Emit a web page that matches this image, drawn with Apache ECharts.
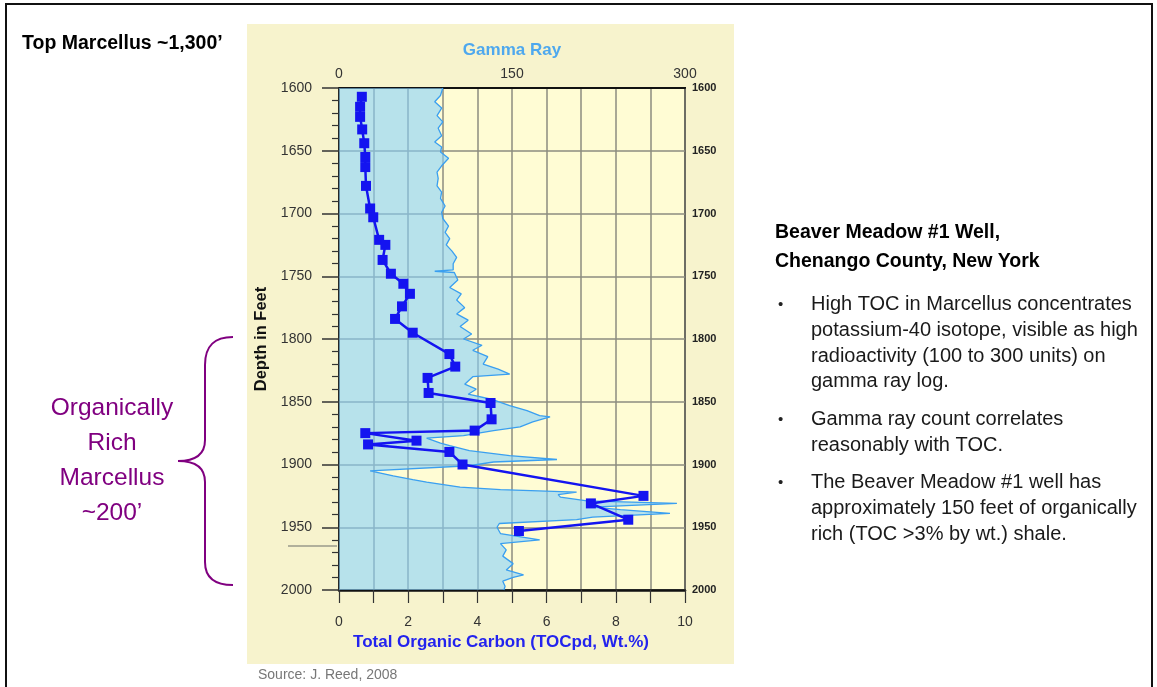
<!DOCTYPE html>
<html><head><meta charset="utf-8">
<script src="https://cdn.jsdelivr.net/npm/echarts@6/dist/echarts.min.js"></script>
<style>html,body{margin:0;padding:0;background:#fff}#c{width:1157px;height:687px}</style>
</head><body><div id="c"></div>
<script>
// TOC samples (depth in feet, TOC wt.%)
const tocDepth = [1607,1615,1623,1633,1644,1655,1663,1678,1696,1703,1721,1725,1737,1748,1756,1764,1774,1784,1795,1812,1822,1831,1843,1851,1864,1873,1875,1881,1884,1890,1900,1925,1931,1944,1953];
const tocValue = [0.66,0.61,0.61,0.67,0.73,0.76,0.76,0.78,0.90,0.99,1.16,1.34,1.26,1.50,1.86,2.05,1.82,1.62,2.13,3.19,3.36,2.56,2.59,4.38,4.41,3.92,0.76,2.24,0.84,3.19,3.57,8.80,7.28,8.36,5.20];

// Gamma ray log (depth in feet, API units)
const grDepth = [1600,1606,1611,1616,1622,1627,1632,1638,1643,1647,1651,1656,1662,1667,1672,1678,1683,1688,1694,1699,1704,1710,1715,1720,1725,1730,1735,1740,1745,1746,1747,1753,1759,1764,1769,1775,1780,1785,1790,1796,1800,1805,1809,1814,1820,1824,1828,1830,1836,1840,1844,1848,1853,1857,1861,1862,1866,1870,1873,1877,1879,1883,1885,1889,1893,1896,1898,1901,1905,1909,1912,1914,1918,1920,1922,1924,1926,1929,1931,1934,1936,1939,1942,1944,1947,1950,1955,1960,1963,1968,1973,1979,1984,1988,1990,1993,1997,2000];
const grValue = [90,88,83,89,85,90,86,89,83,89,88,95,89,85,86,85,89,88,92,89,90,95,92,96,93,98,102,99,99,83,100,103,96,106,102,109,102,112,105,115,108,124,116,129,125,138,148,116,109,119,112,132,148,163,174,183,168,157,134,108,76,88,96,113,148,189,134,113,27,47,64,76,105,140,206,190,192,215,293,220,244,287,220,206,139,137,140,174,140,145,142,151,145,160,151,142,144,143];

const depthMin = 1600, depthMax = 2000, depthStep = 50;
const tocMin = 0, tocMax = 10, tocStep = 1;
const grMin = 0, grMax = 300, grStep = 150;

const tocPairs = tocDepth.map((d, i) => [tocValue[i], d]);
const grPairs = grDepth.map((d, i) => [grValue[i], d]);

const chart = echarts.init(document.getElementById('c'), null, {renderer: 'canvas'});
const FONT = 'Liberation Sans, Arial, sans-serif';
const gridColor = '#8d8c80';
const purple = '#800080';
const plain = v => String(v);

chart.setOption({
  animation: false,
  textStyle: {fontFamily: FONT},
  grid: {left: 339, right: 472, top: 88, bottom: 97, show: true, backgroundColor: '#fffcd4', borderColor: '#111', borderWidth: 2},
  xAxis: [
    {
      type: 'value', position: 'bottom', min: tocMin, max: tocMax, interval: tocStep,
      axisLine: {show: true, lineStyle: {color: '#111', width: 2.5}},
      axisTick: {show: true, length: 13, lineStyle: {color: '#333', width: 1.2}},
      axisLabel: {margin: 25, fontSize: 14, color: '#333', fontFamily: FONT, formatter: v => (v % 2 === 0 ? String(v) : '')},
      splitLine: {show: true, lineStyle: {color: gridColor, width: 1.5}},
      name: 'Total Organic Carbon (TOCpd, Wt.%)', nameLocation: 'middle', nameGap: 40,
      nameTextStyle: {fontSize: 17, fontWeight: 'bold', color: '#2323ee', fontFamily: FONT, padding: [0, 22, 0, 0]}
    },
    {
      type: 'value', position: 'top', min: grMin, max: grMax, interval: grStep,
      axisLine: {show: true, lineStyle: {color: '#111', width: 2}},
      axisTick: {show: false},
      axisLabel: {margin: 7, fontSize: 14, color: '#333', fontFamily: FONT},
      splitLine: {show: false},
      name: 'Gamma Ray', nameLocation: 'middle', nameGap: 29,
      nameTextStyle: {fontSize: 17, fontWeight: 'bold', color: '#4ea8ee', fontFamily: FONT}
    }
  ],
  yAxis: [
    {
      type: 'value', inverse: true, position: 'left', min: depthMin, max: depthMax, interval: depthStep,
      axisLine: {show: true, lineStyle: {color: '#111', width: 1.5}},
      axisTick: {show: true, length: 17, lineStyle: {color: '#333', width: 1.5}},
      minorTick: {show: true, splitNumber: 5, length: 7, lineStyle: {color: '#333', width: 1.2}},
      axisLabel: {margin: 27, fontSize: 14, color: '#333', fontFamily: FONT, formatter: plain},
      splitLine: {show: true, lineStyle: {color: gridColor, width: 1.5}},
      name: 'Depth in Feet', nameLocation: 'middle', nameGap: 69,
      nameTextStyle: {fontSize: 16.5, fontWeight: 'bold', color: '#111', fontFamily: FONT}
    },
    {
      type: 'value', inverse: true, position: 'right', min: depthMin, max: depthMax, interval: depthStep,
      axisLine: {show: false}, axisTick: {show: false},
      axisLabel: {margin: 7, fontSize: 11, fontWeight: 'bold', color: '#222', fontFamily: FONT, formatter: plain},
      splitLine: {show: false}
    }
  ],
  series: [
    {
      type: 'custom', xAxisIndex: 1, yAxisIndex: 0, z: 1, silent: true,
      data: grPairs,
      renderItem: function (params, api) {
        if (params.dataIndex !== 0) return null;
        const pts = [api.coord([grMin, grDepth[0]])];
        for (let i = 0; i < grDepth.length; i++) pts.push(api.coord([grValue[i], grDepth[i]]));
        pts.push(api.coord([grMin, grDepth[grDepth.length - 1]]));
        return {type: 'polygon', shape: {points: pts}, style: {fill: 'rgba(135,208,250,0.6)'}};
      }
    },
    {
      type: 'line', xAxisIndex: 1, yAxisIndex: 0, z: 2, data: grPairs,
      showSymbol: false, lineStyle: {color: '#3a9ff0', width: 1.3}
    },
    {
      type: 'line', xAxisIndex: 0, yAxisIndex: 0, z: 3, data: tocPairs,
      symbol: 'rect', symbolSize: 10,
      itemStyle: {color: '#1414f0'}, lineStyle: {color: '#1414f0', width: 2.5}
    }
  ],
  graphic: [
    {type: 'rect', z: -100, shape: {x: 247, y: 24, width: 487, height: 640}, style: {fill: '#f7f3cd'}},
    {type: 'rect', z: 100, shape: {x: 6, y: 4, width: 1146, height: 700}, style: {fill: null, stroke: '#111', lineWidth: 2}},
    {type: 'line', z: 100, shape: {x1: 288, y1: 546, x2: 337, y2: 546}, style: {stroke: '#9a9a8a', lineWidth: 1.5}},
    {type: 'text', z: 100, x: 22, y: 44, style: {text: 'Top Marcellus ~1,300’', font: 'bold 19.5px ' + FONT, fill: '#000', verticalAlign: 'middle'}},
    {type: 'text', z: 100, x: 112, y: 391, style: {text: 'Organically\nRich\nMarcellus\n~200’', font: '24.5px ' + FONT, fill: purple, align: 'center', lineHeight: 35, verticalAlign: 'top'}},
    {type: 'bezierCurve', z: 100, shape: {x1: 233, y1: 337, cpx1: 215, cpy1: 337, cpx2: 205, cpy2: 345, x2: 205, y2: 365}, style: {fill: null, stroke: purple, lineWidth: 2}},
    {type: 'line', z: 100, shape: {x1: 205, y1: 365, x2: 205, y2: 440}, style: {stroke: purple, lineWidth: 2}},
    {type: 'bezierCurve', z: 100, shape: {x1: 205, y1: 440, cpx1: 205, cpy1: 455, cpx2: 195, cpy2: 461, x2: 178, y2: 461}, style: {fill: null, stroke: purple, lineWidth: 2}},
    {type: 'bezierCurve', z: 100, shape: {x1: 178, y1: 461, cpx1: 195, cpy1: 461, cpx2: 205, cpy2: 467, x2: 205, y2: 482}, style: {fill: null, stroke: purple, lineWidth: 2}},
    {type: 'line', z: 100, shape: {x1: 205, y1: 482, x2: 205, y2: 562}, style: {stroke: purple, lineWidth: 2}},
    {type: 'bezierCurve', z: 100, shape: {x1: 205, y1: 562, cpx1: 205, cpy1: 578, cpx2: 215, cpy2: 585, x2: 233, y2: 585}, style: {fill: null, stroke: purple, lineWidth: 2}},
    {type: 'text', z: 100, x: 775, y: 233, style: {text: 'Beaver Meadow #1 Well,', font: 'bold 19.5px ' + FONT, fill: '#000', verticalAlign: 'middle'}},
    {type: 'text', z: 100, x: 775, y: 262, style: {text: 'Chenango County, New York', font: 'bold 19.5px ' + FONT, fill: '#000', verticalAlign: 'middle'}},
    {type: 'text', z: 100, x: 778, y: 305, style: {text: '•', font: '15px ' + FONT, fill: '#222', verticalAlign: 'middle'}},
    {type: 'text', z: 100, x: 811, y: 292, style: {text: 'High TOC in Marcellus concentrates\npotassium-40 isotope, visible as high\nradioactivity (100 to 300 units) on\ngamma ray log.', font: '20px ' + FONT, fill: '#1a1a1a', lineHeight: 25.7, verticalAlign: 'top'}},
    {type: 'text', z: 100, x: 778, y: 420, style: {text: '•', font: '15px ' + FONT, fill: '#222', verticalAlign: 'middle'}},
    {type: 'text', z: 100, x: 811, y: 407, style: {text: 'Gamma ray count correlates\nreasonably with TOC.', font: '20px ' + FONT, fill: '#1a1a1a', lineHeight: 25.7, verticalAlign: 'top'}},
    {type: 'text', z: 100, x: 778, y: 483, style: {text: '•', font: '15px ' + FONT, fill: '#222', verticalAlign: 'middle'}},
    {type: 'text', z: 100, x: 811, y: 470, style: {text: 'The Beaver Meadow #1 well has\napproximately 150 feet of organically\nrich (TOC >3% by wt.) shale.', font: '20px ' + FONT, fill: '#1a1a1a', lineHeight: 25.7, verticalAlign: 'top'}},
    {type: 'text', z: 100, x: 258, y: 675, style: {text: 'Source: J. Reed, 2008', font: '14px ' + FONT, fill: '#777', verticalAlign: 'middle'}}
  ]
});
</script>
</body></html>
